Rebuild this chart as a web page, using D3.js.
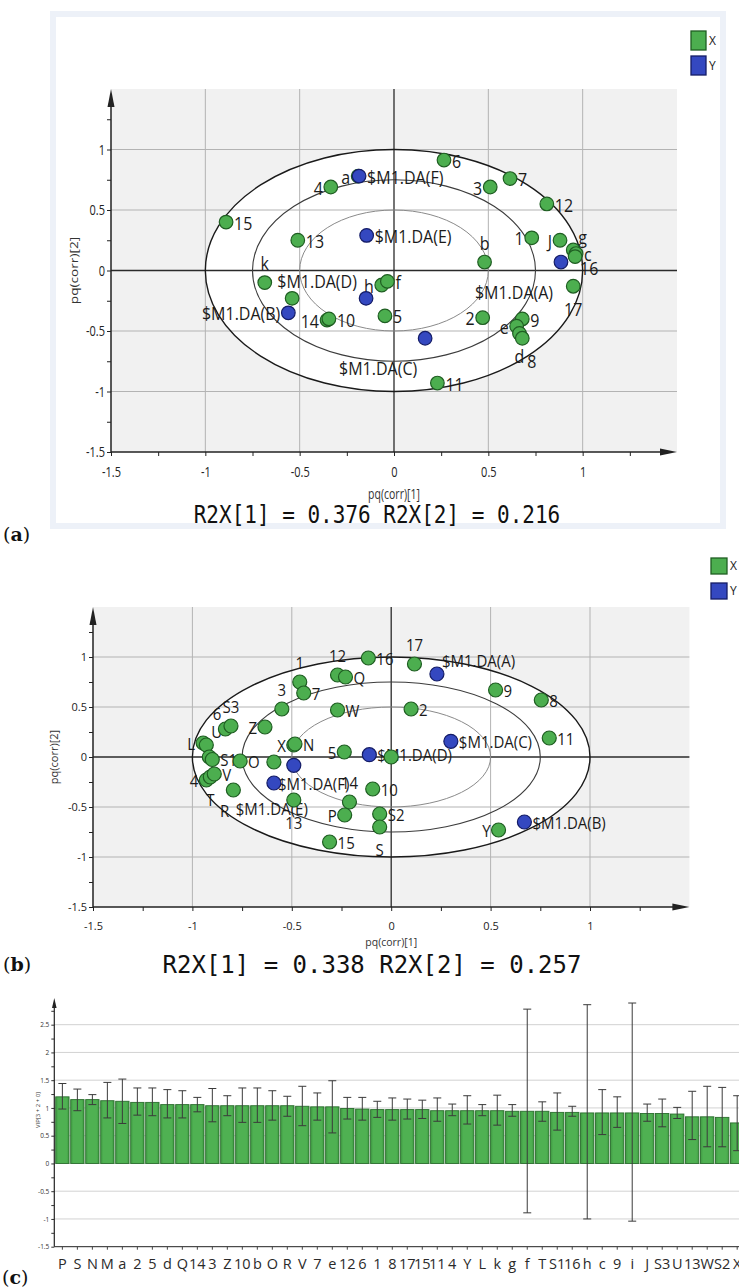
<!DOCTYPE html>
<html><head><meta charset="utf-8">
<script src="https://cdn.jsdelivr.net/npm/d3@7/dist/d3.min.js"></script>
<style>body{margin:0;background:#fff}svg{display:block}</style>
</head><body>
<svg id="fig" width="739" height="1288"></svg>
<script>
// ---------------- DATA ----------------
// Panel (a): X-variable loadings (green)
const aXNames = ["a","4","6","3","7","12","15","13","b","1","J","g","c","16","17","k","h","f","","14","10","5","2","9","e","d","8","11"];
const aXp1 = [-0.19,-0.335,0.265,0.51,0.615,0.81,-0.89,-0.51,0.48,0.73,0.88,0.95,0.965,0.96,0.95,-0.685,-0.065,-0.035,-0.54,-0.355,-0.345,-0.048,0.47,0.68,0.65,0.665,0.68,0.23];
const aXp2 = [0.78,0.69,0.913,0.69,0.76,0.55,0.40,0.25,0.07,0.27,0.25,0.17,0.14,0.115,-0.13,-0.10,-0.12,-0.09,-0.23,-0.41,-0.40,-0.375,-0.39,-0.40,-0.46,-0.52,-0.56,-0.93];
// Panel (a): Y-variable loadings (blue)
const aYNames = ["$M1.DA(F)","$M1.DA(E)","$M1.DA(A)","$M1.DA(D)","$M1.DA(B)","$M1.DA(C)"];
const aYp1 = [-0.185,-0.145,0.885,-0.148,-0.56,0.165];
const aYp2 = [0.78,0.29,0.07,-0.23,-0.35,-0.56];
const aR2X = ["0.376","0.216"];

// Panel (b)
const bXNames = ["17","16","12","Q","1","7","3","W","2","9","8","6","S3","Z","L","U","X","N","11","5","","","S1","O","","4","T","V","R","13","14","10","P","S2","S","15","Y"];
const bXp1 = [0.117,-0.115,-0.27,-0.23,-0.46,-0.44,-0.55,-0.27,0.10,0.525,0.755,-0.834,-0.806,-0.635,-0.946,-0.93,-0.49,-0.484,0.795,-0.236,0.0,-0.915,-0.90,-0.76,-0.59,-0.93,-0.91,-0.89,-0.794,-0.49,-0.21,-0.093,-0.234,-0.058,-0.058,-0.31,0.54];
const bXp2 = [0.93,0.99,0.82,0.80,0.75,0.64,0.48,0.47,0.48,0.67,0.57,0.28,0.31,0.30,0.14,0.12,0.12,0.13,0.19,0.05,0.0,0.0,-0.025,-0.04,-0.05,-0.23,-0.20,-0.17,-0.33,-0.43,-0.45,-0.32,-0.58,-0.57,-0.70,-0.85,-0.73];
const bYNames = ["$M1.DA(A)","$M1.DA(C)","$M1.DA(D)","$M1.DA(B)","$M1.DA(F)","$M1.DA(E)"];
const bYp1 = [0.23,0.30,-0.11,0.67,-0.59,-0.49];
const bYp2 = [0.83,0.157,0.023,-0.65,-0.26,-0.083];
const bR2X = ["0.338","0.257"];

// Panel (c): VIP values with confidence intervals
const cNames = ["P","S","N","M","a","2","5","d","Q","14","3","Z","10","b","O","R","V","7","e","12","6","1","8","17","15","11","4","Y","L","k","g","f","T","S1","16","h","c","9","i","J","S3","U","13","W","S2","X"];
const cVIP = [1.20,1.15,1.15,1.13,1.12,1.10,1.10,1.06,1.06,1.06,1.04,1.04,1.04,1.04,1.04,1.04,1.03,1.02,1.02,0.99,0.98,0.97,0.97,0.97,0.97,0.95,0.95,0.95,0.95,0.95,0.94,0.94,0.94,0.92,0.92,0.91,0.91,0.91,0.91,0.90,0.90,0.89,0.84,0.84,0.83,0.73];
const cHi = [1.44,1.34,1.24,1.46,1.52,1.36,1.36,1.33,1.31,1.19,1.35,1.22,1.36,1.36,1.31,1.21,1.39,1.27,1.49,1.19,1.19,1.12,1.18,1.16,1.14,1.18,1.07,1.22,1.06,1.23,1.06,2.78,1.11,1.27,1.03,2.86,1.33,1.20,2.89,1.07,1.16,1.01,1.30,1.39,1.37,1.22];
const cLo = [0.98,0.95,1.06,0.82,0.72,0.87,0.86,0.82,0.82,0.93,0.75,0.86,0.74,0.74,0.78,0.85,0.68,0.78,0.55,0.80,0.78,0.83,0.78,0.80,0.81,0.76,0.86,0.71,0.86,0.69,0.85,-0.89,0.76,0.60,0.85,-1.00,0.52,0.65,-1.04,0.76,0.66,0.81,0.43,0.30,0.30,0.23];
const cTicks = [-1.5,-1,-0.5,0,0.5,1,1.5,2,2.5];

// ---------------- LABEL PLACEMENT (style) ----------------
const aXLabelAt = ["l","l","r","l","r","r","r","r","t","l","l","tr","r","br","b","t","l","r","","l","r","r","l","r","l","b",[5,23,"start"],"r"];
const aYLabelAt = ["r","r",[-47,30,"middle"],[-49,-17,"middle"],"l",[-47,30,"middle"]];
const bXLabelAt = ["t","r","t","r","t","r","t","r","r","r","r","tl","t","l","l","tr","l","r","r","l","","","r","r","","l","b","r","bl","b","t","r","l","r","b","r","l"];
const bYLabelAt = ["tr","r","r","r",[4,1,"start"],[-22,44,"middle"]];

// ---------------- HELPERS ----------------
const svg = d3.select("#fig");
const SANS = "'Open Sans','Noto Sans','DejaVu Sans',sans-serif";
const GREEN = "#4cae4f", GREEN_D = "#1f5e22", BLUE = "#3448c0", BLUE_D = "#141c66";

function txt(g, x, y, s, o) {
  o = o || {};
  const sy = o.sy || 1, sx = o.sx || 1, size = o.size || 14;
  const base = y + 0.36 * size * sy; // y = vertical centre
  const t = g.append("text")
    .attr("transform", `translate(${x},${base}) scale(${sx},${sy})`)
    .attr("text-anchor", o.anchor || "start")
    .attr("font-family", o.family || SANS)
    .attr("font-size", size)
    .attr("fill", o.fill || "#1b1b1b")
    .text(s);
  if (o.weight) t.attr("font-weight", o.weight);
  return t;
}
function place(code) {
  if (Array.isArray(code)) return {dx: code[0], dy: code[1], a: code[2]};
  switch (code) {
    case "r": return {dx: 8, dy: 1, a: "start"};
    case "l": return {dx: -8, dy: 1, a: "end"};
    case "t": return {dx: 0, dy: -19, a: "middle"};
    case "b": return {dx: 0, dy: 23, a: "middle"};
    case "tr": return {dx: 5, dy: -13, a: "start"};
    case "br": return {dx: 5, dy: 12, a: "start"};
    case "tl": return {dx: -4, dy: -15, a: "end"};
    case "bl": return {dx: -4, dy: 21, a: "end"};
  }
  return null;
}
function panelLabel(x, y, letter) {
  const t = svg.append("text").attr("x", x).attr("y", y)
    .attr("font-family", "'DejaVu Serif','Liberation Serif',serif").attr("font-size", 19).attr("fill", "#111");
  t.append("tspan").text("(");
  t.append("tspan").attr("font-weight", "bold").text(letter);
  t.append("tspan").text(")");
}
const fmt = v => String(+v.toFixed(2));

function scatter(cfg) {
  const {x, y, g, sy, lblSize, lblSy} = cfg;
  const [x0, x1] = x.range(), [y0, y1] = y.range();
  g.append("rect").attr("x", x0).attr("y", y1).attr("width", x1 - x0).attr("height", y0 - y1).attr("fill", "#f1f1f1");
  g.append("ellipse").attr("cx", x(0)).attr("cy", y(0)).attr("rx", x(1) - x(0)).attr("ry", y(0) - y(1)).attr("fill", "#fff");
  [-1, -0.5, 0.5, 1].forEach(v => {
    g.append("line").attr("x1", x(v)).attr("x2", x(v)).attr("y1", y0).attr("y2", y1).attr("stroke", "#b3b3b3").attr("stroke-width", 1);
    g.append("line").attr("y1", y(v)).attr("y2", y(v)).attr("x1", x0).attr("x2", x1).attr("stroke", "#b3b3b3").attr("stroke-width", 1);
  });
  g.append("line").attr("x1", x(0)).attr("x2", x(0)).attr("y1", y0).attr("y2", y1).attr("stroke", "#2a2a2a").attr("stroke-width", 1.3);
  g.append("line").attr("y1", y(0)).attr("y2", y(0)).attr("x1", x0).attr("x2", x1).attr("stroke", "#2a2a2a").attr("stroke-width", 1.4);
  [[1, "#1a1a1a", 1.4], [0.75, "#3c3c3c", 1.1], [0.5, "#8a8a8a", 1]].forEach(([r, c, w]) => {
    g.append("ellipse").attr("cx", x(0)).attr("cy", y(0)).attr("rx", x(r) - x(0)).attr("ry", y(0) - y(r))
      .attr("fill", "none").attr("stroke", c).attr("stroke-width", w);
  });
  const ticks = d3.range(-1.5, 1.3, 0.25);
  const showLbl = v => Math.abs(v * 2 - Math.round(v * 2)) < 1e-6 && v < 1.2;
  const ax = g.append("g").attr("transform", `translate(0,${y0})`)
    .call(d3.axisBottom(x).tickValues(ticks).tickSize(4).tickFormat(v => showLbl(v) ? fmt(v) : ""));
  const ay = g.append("g").attr("transform", `translate(${x0},0)`)
    .call(d3.axisLeft(y).tickValues(ticks).tickSize(4).tickFormat(v => showLbl(v) ? fmt(v) : ""));
  [ax, ay].forEach(a => {
    a.select(".domain").remove();
    a.selectAll("line").attr("stroke", "#222");
    a.selectAll("text").attr("font-family", SANS).attr("font-size", cfg.tickSize).attr("fill", "#222")
      .attr("transform", `scale(1,${sy})`);
  });
  ax.selectAll("text").attr("y", cfg.tickDy / sy);
  ay.selectAll("text").attr("x", -6).attr("y", 0).attr("dy", "0.32em");
  g.append("line").attr("x1", x0).attr("x2", x0).attr("y1", y0).attr("y2", y1 + 6).attr("stroke", "#222").attr("stroke-width", 1.5);
  g.append("path").attr("d", `M${x0},${y1} L${x0 - 3.5},${y1 + 18} L${x0 + 3.5},${y1 + 18} Z`).attr("fill", "#222");
  g.append("line").attr("x1", x0).attr("x2", x1 - 6).attr("y1", y0).attr("y2", y0).attr("stroke", "#222").attr("stroke-width", 1.5);
  g.append("path").attr("d", `M${x1},${y0} L${x1 - 17},${y0 - 3.5} L${x1 - 17},${y0 + 3.5} Z`).attr("fill", "#222");
  txt(g, (x0 + x1) / 2, y0 + cfg.titleDy, "pq(corr)[1]", {anchor: "middle", size: 10.5, sy: sy, fill: "#333"});
  g.append("text").attr("transform", `translate(${cfg.yTitleX},${y(0)}) rotate(-90) scale(${sy},1)`)
    .attr("text-anchor", "middle").attr("font-family", SANS).attr("font-size", 10.5).attr("fill", "#333").text("pq(corr)[2]");
  const lg = g.append("g");
  const addLabels = (names, p1, p2, at) => names.forEach((n, i) => {
    const p = place(at[i]);
    if (!n || !p) return;
    txt(lg, x(p1[i]) + p.dx, y(p2[i]) + p.dy, n, {anchor: p.a, size: lblSize, sy: lblSy});
  });
  addLabels(cfg.xn, cfg.xp1, cfg.xp2, cfg.xat);
  addLabels(cfg.yn, cfg.yp1, cfg.yp2, cfg.yat);
  g.append("g").selectAll("circle").data(cfg.xp1).join("circle")
    .attr("cx", d => x(d)).attr("cy", (d, i) => y(cfg.xp2[i])).attr("r", cfg.r)
    .attr("fill", GREEN).attr("stroke", GREEN_D).attr("stroke-width", 1.2);
  g.append("g").selectAll("circle").data(cfg.yp1).join("circle")
    .attr("cx", d => x(d)).attr("cy", (d, i) => y(cfg.yp2[i])).attr("r", cfg.r)
    .attr("fill", BLUE).attr("stroke", BLUE_D).attr("stroke-width", 1.2);
  const cap = `R2X[1] = ${cfg.r2x[0]} R2X[2] = ${cfg.r2x[1]}`;
  txt(g, cfg.capX, cfg.capY, cap, {anchor: "middle", size: cfg.capSize, sy: cfg.capSy, family: "'DejaVu Sans Mono','Liberation Mono',monospace", fill: "#111"});
}
function legend(x, y, w, h, gap, size) {
  [["X", GREEN, GREEN_D], ["Y", BLUE, BLUE_D]].forEach(([n, f, s], i) => {
    svg.append("rect").attr("x", x).attr("y", y + i * gap).attr("width", w).attr("height", h).attr("fill", f).attr("stroke", s).attr("stroke-width", 1.3);
    txt(svg, x + w + 3, y + i * gap + h / 2, n, {size: size, fill: "#222"});
  });
}

// ---------------- PANEL (a) ----------------
svg.append("rect").attr("x", 53).attr("y", 14).attr("width", 670).attr("height", 512)
  .attr("fill", "#fff").attr("stroke", "#edf1f8").attr("stroke-width", 6);
const ga = svg.append("g");
scatter({
  g: ga, x: d3.scaleLinear([-1.5, 1.5], [111, 677]), y: d3.scaleLinear([-1.5, 1.5], [452, 89]),
  sy: 1.3, lblSize: 16, lblSy: 1.15, tickSize: 11, tickDy: 15, titleDy: 42, yTitleX: 78, r: 6.8,
  xn: aXNames, xp1: aXp1, xp2: aXp2, xat: aXLabelAt,
  yn: aYNames, yp1: aYp1, yp2: aYp2, yat: aYLabelAt,
  r2x: aR2X, capX: 377, capY: 514, capSize: 21, capSy: 1.2
});
legend(691, 31, 15, 19, 25, 12);
panelLabel(3, 541, "a");

// ---------------- PANEL (b) ----------------
const gb = svg.append("g");
scatter({
  g: gb, x: d3.scaleLinear([-1.5, 1.5], [93, 689.4]), y: d3.scaleLinear([-1.5, 1.5], [907, 607]),
  sy: 1.05, lblSize: 15, lblSy: 1.05, tickSize: 11, tickDy: 15, titleDy: 35, yTitleX: 58, r: 7,
  xn: bXNames, xp1: bXp1, xp2: bXp2, xat: bXLabelAt,
  yn: bYNames, yp1: bYp1, yp2: bYp2, yat: bYLabelAt,
  r2x: bR2X, capX: 372, capY: 964, capSize: 24, capSy: 1.05
});
legend(711, 558, 16, 16, 25, 12);
panelLabel(3, 971, "b");

// ---------------- PANEL (c) ----------------
const gc = svg.append("g");
const yC = d3.scaleLinear([-1.5, 2.95], [1246.7, 999.7]);
const xC = d3.scaleBand().domain(cNames).range([55.7, 55.7 + cNames.length * 14.96]).paddingInner(0.11).paddingOuter(0);
cTicks.filter(v => v > -1.5).forEach(v => {
  gc.append("line").attr("x1", 54.3).attr("x2", 739).attr("y1", yC(v)).attr("y2", yC(v)).attr("stroke", "#d2d2d2").attr("stroke-width", 1);
});
const grad = svg.append("defs").append("linearGradient").attr("id", "bargrad").attr("x1", 0).attr("x2", 1).attr("y1", 0).attr("y2", 0);
grad.append("stop").attr("offset", "0%").attr("stop-color", "#3f9a42");
grad.append("stop").attr("offset", "20%").attr("stop-color", "#4fb152");
grad.append("stop").attr("offset", "80%").attr("stop-color", "#4fb152");
grad.append("stop").attr("offset", "100%").attr("stop-color", "#3f9a42");
gc.append("g").selectAll("rect").data(cVIP).join("rect")
  .attr("x", (d, i) => xC(cNames[i])).attr("width", xC.bandwidth())
  .attr("y", d => yC(d)).attr("height", d => yC(0) - yC(d))
  .attr("fill", "url(#bargrad)").attr("stroke", "#2b6e2e").attr("stroke-width", 0.9);
const eb = gc.append("g").attr("stroke", "#3a3a3a").attr("stroke-width", 1);
cNames.forEach((n, i) => {
  const cx = xC(n) + xC.bandwidth() / 2;
  eb.append("line").attr("x1", cx).attr("x2", cx).attr("y1", yC(cLo[i])).attr("y2", yC(cHi[i]));
  eb.append("line").attr("x1", cx - 4).attr("x2", cx + 4).attr("y1", yC(cLo[i])).attr("y2", yC(cLo[i]));
  eb.append("line").attr("x1", cx - 4).attr("x2", cx + 4).attr("y1", yC(cHi[i])).attr("y2", yC(cHi[i]));
});
const ayc = gc.append("g").attr("transform", "translate(54.3,0)")
  .call(d3.axisLeft(yC).tickValues(d3.range(-1.5, 2.8, 0.25)).tickSize(3)
    .tickFormat(v => cTicks.includes(+v.toFixed(2)) ? fmt(v) : ""));
ayc.select(".domain").remove();
ayc.selectAll("line").attr("stroke", "#333");
ayc.selectAll("text").attr("font-family", SANS).attr("font-size", 6.5).attr("fill", "#333").attr("x", -5);
gc.append("line").attr("x1", 54.3).attr("x2", 54.3).attr("y1", 1246.7).attr("y2", 1004).attr("stroke", "#222").attr("stroke-width", 1.2);
gc.append("path").attr("d", "M54.3,998 L52,1008 L56.6,1008 Z").attr("fill", "#222");
const axc = gc.append("g").attr("transform", "translate(0,1246.7)")
  .call(d3.axisBottom(xC).tickSize(3).tickPadding(9));
axc.select(".domain").attr("stroke", "#222").attr("d", "M54.3,0H739");
axc.selectAll("line").attr("stroke", "#444");
axc.selectAll("text").attr("font-family", SANS).attr("font-size", 14.5).attr("fill", "#2a2a2a");
gc.append("text").attr("transform", "translate(40,1110) rotate(-90)").attr("text-anchor", "middle")
  .attr("font-family", SANS).attr("font-size", 6).attr("fill", "#333").text("VIP[3 + 2 + 0]");
panelLabel(2, 1284, "c");
</script>
</body></html>
